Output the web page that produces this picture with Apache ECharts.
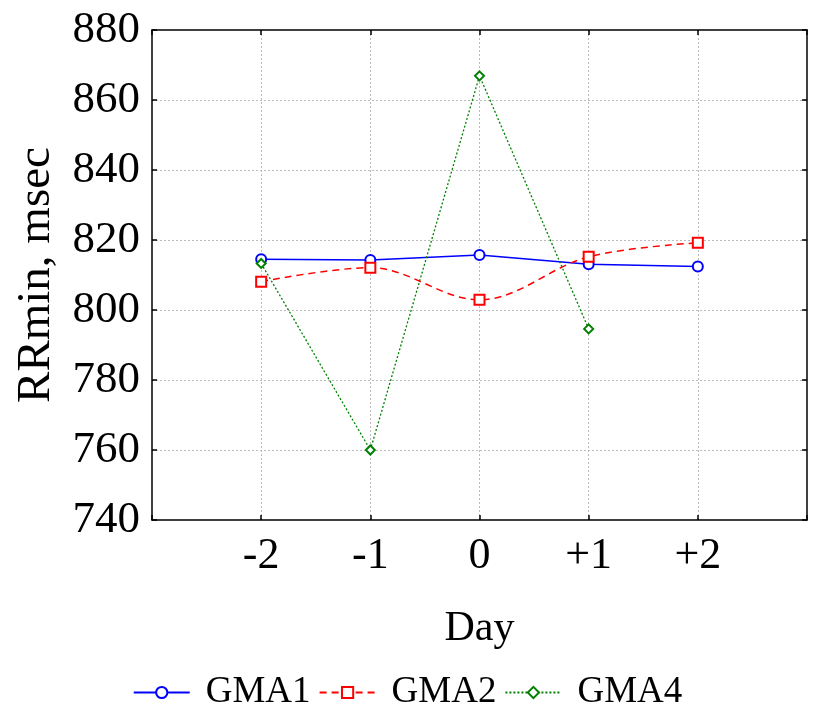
<!DOCTYPE html>
<html>
<head>
<meta charset="utf-8">
<script src="https://cdn.jsdelivr.net/npm/echarts@6/dist/echarts.min.js"></script>
<style>html,body{margin:0;padding:0;background:#fff}#chart{width:815px;height:710px}</style>
</head>
<body>
<div id="chart"></div>
<script>
const days = [-2, -1, 0, 1, 2];
const dayLabels = ['-2', '-1', '0', '+1', '+2'];
const gma1 = [814.5, 814.3, 815.7, 813.1, 812.4];
const gma2 = [808.1, 812.1, 802.9, 815.2, 819.2];
const gma4 = [813.3, 760.0, 866.9, 794.6];
const yTicks = [740, 760, 780, 800, 820, 840, 860, 880];

const FONT = 'Liberation Serif';
const pairs = vals => vals.map((v, i) => [days[i], v]);
const dayLabel = v => { const i = days.indexOf(v); return i >= 0 ? dayLabels[i] : ''; };

const frameLine = { show: true, onZero: false, lineStyle: { color: '#000', width: 1.5 } };
const frameTick = { show: true, inside: true, length: 5, lineStyle: { color: '#000', width: 1.5 } };
const grid = { show: true, showMinLine: false, showMaxLine: false, lineStyle: { color: '#bbb', type: [2, 2], width: 1 } };

const chart = echarts.init(document.getElementById('chart'));
chart.setOption({
  animation: false,
  backgroundColor: '#fff',
  grid: { left: 152, right: 8, top: 30, bottom: 190 },
  legend: {
    top: 669, left: 'center',
    itemWidth: 56, itemHeight: 14, itemGap: 8,
    textStyle: { fontFamily: FONT, fontSize: 37, color: '#000', padding: [0, 0, 0, 11] },
    data: ['GMA1', 'GMA2', 'GMA4']
  },
  xAxis: [{
    type: 'value', position: 'bottom', min: -3, max: 3, interval: 1,
    name: 'Day', nameLocation: 'middle', nameGap: 88,
    nameTextStyle: { fontFamily: FONT, fontSize: 42, color: '#000' },
    axisLine: frameLine, axisTick: frameTick,
    axisLabel: { fontFamily: FONT, fontSize: 44, color: '#000', margin: 14, formatter: dayLabel },
    splitLine: grid
  }, {
    type: 'value', position: 'top', min: -3, max: 3, interval: 1,
    axisLine: frameLine, axisTick: frameTick,
    axisLabel: { show: false }, splitLine: { show: false }
  }],
  yAxis: [{
    type: 'value', position: 'left', min: yTicks[0], max: yTicks[yTicks.length - 1], interval: 20,
    name: 'RRmin, msec', nameLocation: 'middle', nameGap: 92, nameRotate: 90,
    nameTextStyle: { fontFamily: FONT, fontSize: 47, color: '#000' },
    axisLine: frameLine, axisTick: frameTick,
    axisLabel: { fontFamily: FONT, fontSize: 45, color: '#000', margin: 12 },
    splitLine: grid
  }, {
    type: 'value', position: 'right', min: yTicks[0], max: yTicks[yTicks.length - 1], interval: 20,
    axisLine: frameLine, axisTick: frameTick,
    axisLabel: { show: false }, splitLine: { show: false }
  }],
  series: [{
    name: 'GMA1', type: 'line', data: pairs(gma1),
    symbol: 'emptyCircle', symbolSize: 10,
    itemStyle: { color: '#0000ff', borderWidth: 1.5 },
    lineStyle: { color: '#0000ff', width: 1.5, type: 'solid' }
  }, {
    name: 'GMA2', type: 'line', data: pairs(gma2), smooth: 0.35,
    symbol: 'emptyRect', symbolSize: 10,
    itemStyle: { color: '#ff0000', borderWidth: 1.5 },
    lineStyle: { color: '#ff0000', width: 1.5, type: [7, 5] }
  }, {
    name: 'GMA4', type: 'line', data: pairs(gma4),
    symbol: 'emptyDiamond', symbolSize: 9,
    itemStyle: { color: '#008000', borderWidth: 1.2 },
    lineStyle: { color: '#008000', width: 1.3, type: [2, 2] }
  }]
});
</script>
</body>
</html>
